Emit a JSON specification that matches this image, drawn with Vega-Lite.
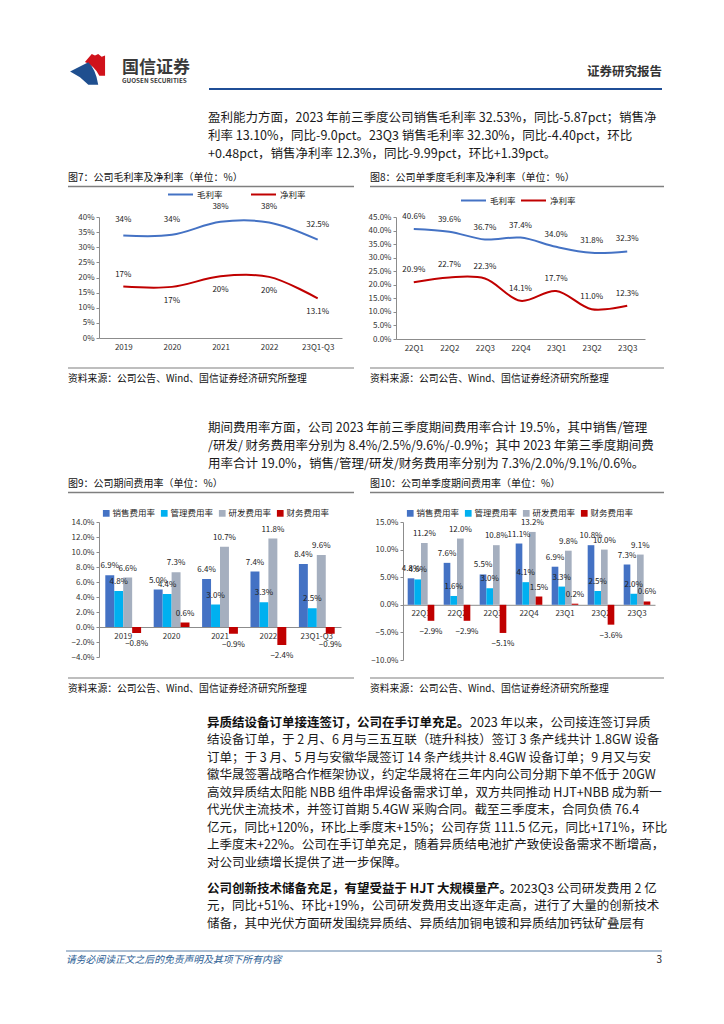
{
"$schema": "https://vega.github.io/schema/vega-lite/v6.json",
"padding": 0,
"background": "white",
"spacing": 0,
"bounds": "flush",
"config": {
  "font": "Noto Sans CJK SC",
  "view": {"stroke": null},
  "axis": {"labelFontSize": 8, "labelColor": "#333", "domainColor": "#8c8c8c", "tickColor": "#8c8c8c", "grid": false, "labelFont": "Noto Sans CJK SC"},
  "legend": {"labelFontSize": 8.5, "labelColor": "#222", "labelFont": "Noto Sans CJK SC"}
},
"vconcat": [
  {"width": 724, "height": 91, "layer": [
    {"data": {"values": [{"part": "红"}]}, "mark": {"type": "point", "shape": "M-0.32,-0.47L0.04,-0.89L0.21,-0.81L0.38,-0.89L0.56,-0.75L0.74,-0.81L0.74,0.25L0.44,0.25Q0.15,-0.3,-0.32,-0.47Z", "filled": true, "color": "#D0121B", "size": 1444, "opacity": 1, "strokeWidth": 0},
     "encoding": {"x": {"datum": 91, "type": "quantitative", "scale": {"domain": [0, 724], "nice": false}, "axis": null}, "y": {"datum": 71, "type": "quantitative", "scale": {"domain": [0, 91], "nice": false, "reverse": true}, "axis": null}}},
    {"data": {"values": [{"part": "蓝"}]}, "mark": {"type": "point", "shape": "M-1.1,0.02L-0.14,-0.46Q0.25,-0.1,0.38,0.72L-0.14,0.72L-0.58,0.33Z", "filled": true, "color": "#1F4F8F", "size": 1444, "opacity": 1, "strokeWidth": 0},
     "encoding": {"x": {"datum": 91, "type": "quantitative", "scale": {"domain": [0, 724], "nice": false}, "axis": null}, "y": {"datum": 71, "type": "quantitative", "scale": {"domain": [0, 91], "nice": false, "reverse": true}, "axis": null}}},
    {"data": {"values": [{"t": "国信证券"}]}, "mark": {"type": "text", "align": "left", "baseline": "middle", "fontSize": 17, "fontWeight": "bold", "color": "#3a3a3a"},
     "encoding": {"x": {"datum": 122, "type": "quantitative", "scale": {"domain": [0, 724], "nice": false}, "axis": null}, "y": {"datum": 67.5, "type": "quantitative", "scale": {"domain": [0, 91], "nice": false, "reverse": true}, "axis": null}, "text": {"field": "t"}}},
    {"data": {"values": [{"t": "GUOSEN SECURITIES"}]}, "mark": {"type": "text", "align": "left", "baseline": "middle", "fontSize": 6.3, "fontWeight": "bold", "color": "#3a3a3a"},
     "encoding": {"x": {"datum": 122, "type": "quantitative", "scale": {"domain": [0, 724], "nice": false}, "axis": null}, "y": {"datum": 80.5, "type": "quantitative", "scale": {"domain": [0, 91], "nice": false, "reverse": true}, "axis": null}, "text": {"field": "t"}}},
    {"data": {"values": [{"t": "证券研究报告"}]}, "mark": {"type": "text", "align": "right", "baseline": "middle", "fontSize": 12.5, "fontWeight": "bold", "color": "#333"},
     "encoding": {"x": {"datum": 662, "type": "quantitative", "scale": {"domain": [0, 724], "nice": false}, "axis": null}, "y": {"datum": 72, "type": "quantitative", "scale": {"domain": [0, 91], "nice": false, "reverse": true}, "axis": null}, "text": {"field": "t"}}},
    {"data": {"values": [{"k": "header"}]}, "mark": {"type": "rule", "color": "#1F4E96", "strokeWidth": 2},
     "encoding": {"x": {"datum": 209, "type": "quantitative", "scale": {"domain": [0, 724], "nice": false}, "axis": null}, "x2": {"datum": 662}, "y": {"datum": 89, "type": "quantitative", "scale": {"domain": [0, 91], "nice": false, "reverse": true}, "axis": null}}}
  ]},
  {"width": 724, "height": 18, "data": {"values": []}, "mark": "text"},
  {"width": 724, "height": 54,
   "data": {"values": [
     {"l": 1, "t": "盈利能力方面，2023 年前三季度公司销售毛利率 32.53%，同比-5.87pct；销售净"},
     {"l": 2, "t": "利率 13.10%，同比-9.0pct。23Q3 销售毛利率 32.30%，同比-4.40pct，环比"},
     {"l": 3, "t": "+0.48pct，销售净利率 12.3%，同比-9.99pct，环比+1.39pct。"}
   ]},
   "mark": {"type": "text", "align": "left", "baseline": "middle", "fontSize": 12.5, "color": "#1a1a1a"},
   "encoding": {
     "x": {"datum": 208, "type": "quantitative", "scale": {"domain": [0, 724], "nice": false}, "axis": null},
     "y": {"field": "l", "type": "ordinal", "axis": null, "scale": {"type": "point", "padding": 0.5}},
     "text": {"field": "t"}
   }},
  {"width": 724, "height": 54, "layer": [
    {"data": {"values": [{"t": "图7：公司毛利率及净利率（单位：%）"}]}, "mark": {"type": "text", "align": "left", "baseline": "middle", "fontSize": 10, "color": "#111"},
     "encoding": {"x": {"datum": 68, "type": "quantitative", "scale": {"domain": [0, 724], "nice": false}, "axis": null}, "y": {"datum": 15, "type": "quantitative", "scale": {"domain": [0, 54], "nice": false, "reverse": true}, "axis": null}, "text": {"field": "t"}}},
    {"data": {"values": [{"t": "图8：公司单季度毛利率及净利率（单位：%）"}]}, "mark": {"type": "text", "align": "left", "baseline": "middle", "fontSize": 10, "color": "#111"},
     "encoding": {"x": {"datum": 370, "type": "quantitative", "scale": {"domain": [0, 724], "nice": false}, "axis": null}, "y": {"datum": 15, "type": "quantitative", "scale": {"domain": [0, 54], "nice": false, "reverse": true}, "axis": null}, "text": {"field": "t"}}},
    {"data": {"values": [{"k": "图7"}]}, "mark": {"type": "rule", "color": "#7f7f7f", "strokeWidth": 1.5},
     "encoding": {"x": {"datum": 68, "type": "quantitative", "scale": {"domain": [0, 724], "nice": false}, "axis": null}, "x2": {"datum": 354}, "y": {"datum": 23.5, "type": "quantitative", "scale": {"domain": [0, 54], "nice": false, "reverse": true}, "axis": null}}},
    {"data": {"values": [{"k": "图8"}]}, "mark": {"type": "rule", "color": "#7f7f7f", "strokeWidth": 1.5},
     "encoding": {"x": {"datum": 370, "type": "quantitative", "scale": {"domain": [0, 724], "nice": false}, "axis": null}, "x2": {"datum": 664}, "y": {"datum": 23.5, "type": "quantitative", "scale": {"domain": [0, 54], "nice": false, "reverse": true}, "axis": null}}}
  ]},
  {"width": 724, "height": 122,
   "resolve": {"scale": {"x": "independent", "y": "independent", "color": "independent"}, "axis": {"x": "independent", "y": "independent"}, "legend": {"color": "independent"}},
   "layer": [
    {"data": {"values": [
       {"p": "2019", "s": "毛利率", "v": 0.339},
       {"p": "2020", "s": "毛利率", "v": 0.341},
       {"p": "2021", "s": "毛利率", "v": 0.384},
       {"p": "2022", "s": "毛利率", "v": 0.382},
       {"p": "23Q1-Q3", "s": "毛利率", "v": 0.325},
       {"p": "2019", "s": "净利率", "v": 0.170},
       {"p": "2020", "s": "净利率", "v": 0.169},
       {"p": "2021", "s": "净利率", "v": 0.204},
       {"p": "2022", "s": "净利率", "v": 0.202},
       {"p": "23Q1-Q3", "s": "净利率", "v": 0.131}
     ]},
     "encoding": {
       "x": {"field": "p", "type": "ordinal", "sort": ["2019", "2020", "2021", "2022", "23Q1-Q3"], "scale": {"type": "point", "padding": 0.5, "range": [99, 342]}, "axis": {"orient": "bottom", "offset": -1, "title": null, "labelAngle": 0, "ticks": false, "labelPadding": 5}},
       "y": {"field": "v", "type": "quantitative", "scale": {"domain": [0, 0.4], "nice": false, "range": [121, 0]}, "axis": {"orient": "left", "offset": -99, "title": null, "values": [0, 0.05, 0.1, 0.15, 0.2, 0.25, 0.3, 0.35, 0.4], "format": ".0%", "tickSize": 3, "labelPadding": 2}}
     },
     "layer": [
       {"mark": {"type": "line", "interpolate": "catmull-rom", "strokeWidth": 2},
        "encoding": {"color": {"field": "s", "type": "nominal", "scale": {"domain": ["毛利率", "净利率"], "range": ["#4472C4", "#C00000"]},
          "legend": {"orient": "none", "legendX": 167, "legendY": -36, "direction": "horizontal", "title": null, "symbolType": "stroke", "symbolSize": 625, "symbolStrokeWidth": 2, "columnPadding": 24, "labelOffset": 3}}}},
       {"transform": [{"filter": "datum.s == '毛利率' && datum.p != '23Q1-Q3'"}], "mark": {"type": "text", "dy": -15, "fontSize": 8, "color": "#222"}, "encoding": {"text": {"field": "v", "type": "quantitative", "format": ".0%"}}},
       {"transform": [{"filter": "datum.s == '毛利率' && datum.p == '23Q1-Q3'"}], "mark": {"type": "text", "dy": -15, "fontSize": 8, "color": "#222"}, "encoding": {"text": {"field": "v", "type": "quantitative", "format": ".1%"}}},
       {"transform": [{"filter": "datum.s == '净利率' && datum.p == '2019'"}], "mark": {"type": "text", "dy": -12, "fontSize": 8, "color": "#222"}, "encoding": {"text": {"field": "v", "type": "quantitative", "format": ".0%"}}},
       {"transform": [{"filter": "datum.s == '净利率' && datum.p != '2019' && datum.p != '23Q1-Q3'"}], "mark": {"type": "text", "dy": 14, "fontSize": 8, "color": "#222"}, "encoding": {"text": {"field": "v", "type": "quantitative", "format": ".0%"}}},
       {"transform": [{"filter": "datum.s == '净利率' && datum.p == '23Q1-Q3'"}], "mark": {"type": "text", "dy": 14, "fontSize": 8, "color": "#222"}, "encoding": {"text": {"field": "v", "type": "quantitative", "format": ".1%"}}}
     ]},
    {"data": {"values": [
       {"p": "22Q1", "s": "毛利率", "v": 0.406},
       {"p": "22Q2", "s": "毛利率", "v": 0.396},
       {"p": "22Q3", "s": "毛利率", "v": 0.367},
       {"p": "22Q4", "s": "毛利率", "v": 0.374},
       {"p": "23Q1", "s": "毛利率", "v": 0.340},
       {"p": "23Q2", "s": "毛利率", "v": 0.318},
       {"p": "23Q3", "s": "毛利率", "v": 0.323},
       {"p": "22Q1", "s": "净利率", "v": 0.209},
       {"p": "22Q2", "s": "净利率", "v": 0.227},
       {"p": "22Q3", "s": "净利率", "v": 0.223},
       {"p": "22Q4", "s": "净利率", "v": 0.141},
       {"p": "23Q1", "s": "净利率", "v": 0.177},
       {"p": "23Q2", "s": "净利率", "v": 0.110},
       {"p": "23Q3", "s": "净利率", "v": 0.123}
     ]},
     "encoding": {
       "x": {"field": "p", "type": "ordinal", "sort": ["22Q1", "22Q2", "22Q3", "22Q4", "23Q1", "23Q2", "23Q3"], "scale": {"type": "point", "padding": 0.5, "range": [396, 645]}, "axis": {"orient": "bottom", "offset": 0, "title": null, "labelAngle": 0, "ticks": false, "labelPadding": 5}},
       "y": {"field": "v", "type": "quantitative", "scale": {"domain": [0, 0.45], "nice": false, "range": [122, 0]}, "axis": {"orient": "left", "offset": -396, "title": null, "values": [0, 0.05, 0.1, 0.15, 0.2, 0.25, 0.3, 0.35, 0.4, 0.45], "format": ".1%", "tickSize": 3, "labelPadding": 2}}
     },
     "layer": [
       {"mark": {"type": "line", "interpolate": "catmull-rom", "strokeWidth": 2},
        "encoding": {"color": {"field": "s", "type": "nominal", "scale": {"domain": ["毛利率", "净利率"], "range": ["#4472C4", "#C00000"]},
          "legend": {"orient": "none", "legendX": 460, "legendY": -30, "direction": "horizontal", "title": null, "symbolType": "stroke", "symbolSize": 625, "symbolStrokeWidth": 2, "columnPadding": 1, "labelOffset": 3}}}},
       {"mark": {"type": "text", "dy": -12, "fontSize": 8, "color": "#222"}, "encoding": {"text": {"field": "v", "type": "quantitative", "format": ".1%"}}}
     ]}
  ]},
  {"width": 724, "height": 80, "layer": [
    {"data": {"values": [{"k": "图7"}]}, "mark": {"type": "rule", "color": "#7f7f7f", "strokeWidth": 1.2},
     "encoding": {"x": {"datum": 68, "type": "quantitative", "scale": {"domain": [0, 724], "nice": false}, "axis": null}, "x2": {"datum": 354}, "y": {"datum": 29, "type": "quantitative", "scale": {"domain": [0, 80], "nice": false, "reverse": true}, "axis": null}}},
    {"data": {"values": [{"k": "图8"}]}, "mark": {"type": "rule", "color": "#7f7f7f", "strokeWidth": 1.2},
     "encoding": {"x": {"datum": 370, "type": "quantitative", "scale": {"domain": [0, 724], "nice": false}, "axis": null}, "x2": {"datum": 664}, "y": {"datum": 29, "type": "quantitative", "scale": {"domain": [0, 80], "nice": false, "reverse": true}, "axis": null}}},
    {"data": {"values": [{"t": "资料来源：公司公告、Wind、国信证券经济研究所整理"}]}, "mark": {"type": "text", "align": "left", "baseline": "middle", "fontSize": 9.8, "color": "#111"},
     "encoding": {"x": {"datum": 68, "type": "quantitative", "scale": {"domain": [0, 724], "nice": false}, "axis": null}, "y": {"datum": 40, "type": "quantitative", "scale": {"domain": [0, 80], "nice": false, "reverse": true}, "axis": null}, "text": {"field": "t"}}},
    {"data": {"values": [{"t": "资料来源：公司公告、Wind、国信证券经济研究所整理"}]}, "mark": {"type": "text", "align": "left", "baseline": "middle", "fontSize": 9.8, "color": "#111"},
     "encoding": {"x": {"datum": 370, "type": "quantitative", "scale": {"domain": [0, 724], "nice": false}, "axis": null}, "y": {"datum": 40, "type": "quantitative", "scale": {"domain": [0, 80], "nice": false, "reverse": true}, "axis": null}, "text": {"field": "t"}}}
  ]},
  {"width": 724, "height": 54,
   "data": {"values": [
     {"l": 1, "t": "期间费用率方面，公司 2023 年前三季度期间费用率合计 19.5%，其中销售/管理"},
     {"l": 2, "t": "/研发/ 财务费用率分别为 8.4%/2.5%/9.6%/-0.9%；其中 2023 年第三季度期间费"},
     {"l": 3, "t": "用率合计 19.0%，销售/管理/研发/财务费用率分别为 7.3%/2.0%/9.1%/0.6%。"}
   ]},
   "mark": {"type": "text", "align": "left", "baseline": "middle", "fontSize": 12.5, "color": "#1a1a1a"},
   "encoding": {
     "x": {"datum": 208, "type": "quantitative", "scale": {"domain": [0, 724], "nice": false}, "axis": null},
     "y": {"field": "l", "type": "ordinal", "axis": null, "scale": {"type": "point", "padding": 0.5}},
     "text": {"field": "t"}
   }},
  {"width": 724, "height": 49, "layer": [
    {"data": {"values": [{"t": "图9：公司期间费用率（单位：%）"}]}, "mark": {"type": "text", "align": "left", "baseline": "middle", "fontSize": 10, "color": "#111"},
     "encoding": {"x": {"datum": 68, "type": "quantitative", "scale": {"domain": [0, 724], "nice": false}, "axis": null}, "y": {"datum": 11, "type": "quantitative", "scale": {"domain": [0, 49], "nice": false, "reverse": true}, "axis": null}, "text": {"field": "t"}}},
    {"data": {"values": [{"t": "图10：公司单季度期间费用率（单位：%）"}]}, "mark": {"type": "text", "align": "left", "baseline": "middle", "fontSize": 10, "color": "#111"},
     "encoding": {"x": {"datum": 370, "type": "quantitative", "scale": {"domain": [0, 724], "nice": false}, "axis": null}, "y": {"datum": 11, "type": "quantitative", "scale": {"domain": [0, 49], "nice": false, "reverse": true}, "axis": null}, "text": {"field": "t"}}},
    {"data": {"values": [{"k": "图9"}]}, "mark": {"type": "rule", "color": "#7f7f7f", "strokeWidth": 1.5},
     "encoding": {"x": {"datum": 68, "type": "quantitative", "scale": {"domain": [0, 724], "nice": false}, "axis": null}, "x2": {"datum": 354}, "y": {"datum": 19.5, "type": "quantitative", "scale": {"domain": [0, 49], "nice": false, "reverse": true}, "axis": null}}},
    {"data": {"values": [{"k": "图10"}]}, "mark": {"type": "rule", "color": "#7f7f7f", "strokeWidth": 1.5},
     "encoding": {"x": {"datum": 370, "type": "quantitative", "scale": {"domain": [0, 724], "nice": false}, "axis": null}, "x2": {"datum": 664}, "y": {"datum": 19.5, "type": "quantitative", "scale": {"domain": [0, 49], "nice": false, "reverse": true}, "axis": null}}}
  ]},
  {"width": 724, "height": 138,
   "resolve": {"scale": {"x": "independent", "y": "independent", "xOffset": "independent", "color": "independent"}, "axis": {"x": "independent", "y": "independent"}, "legend": {"color": "independent"}},
   "layer": [
    {"data": {"values": [
       {"p": "2019", "s": "销售费用率", "v": 0.069}, {"p": "2019", "s": "管理费用率", "v": 0.048}, {"p": "2019", "s": "研发费用率", "v": 0.066}, {"p": "2019", "s": "财务费用率", "v": -0.008},
       {"p": "2020", "s": "销售费用率", "v": 0.050}, {"p": "2020", "s": "管理费用率", "v": 0.044}, {"p": "2020", "s": "研发费用率", "v": 0.073}, {"p": "2020", "s": "财务费用率", "v": 0.006},
       {"p": "2021", "s": "销售费用率", "v": 0.064}, {"p": "2021", "s": "管理费用率", "v": 0.030}, {"p": "2021", "s": "研发费用率", "v": 0.107}, {"p": "2021", "s": "财务费用率", "v": -0.009},
       {"p": "2022", "s": "销售费用率", "v": 0.074}, {"p": "2022", "s": "管理费用率", "v": 0.033}, {"p": "2022", "s": "研发费用率", "v": 0.118}, {"p": "2022", "s": "财务费用率", "v": -0.024},
       {"p": "23Q1-Q3", "s": "销售费用率", "v": 0.084}, {"p": "23Q1-Q3", "s": "管理费用率", "v": 0.025}, {"p": "23Q1-Q3", "s": "研发费用率", "v": 0.096}, {"p": "23Q1-Q3", "s": "财务费用率", "v": -0.009}
     ]},
     "encoding": {
       "x": {"field": "p", "type": "nominal", "sort": ["2019", "2020", "2021", "2022", "23Q1-Q3"], "scale": {"paddingInner": 0.26, "paddingOuter": 0.13, "range": [99, 341]}, "axis": {"orient": "bottom", "offset": -33, "title": null, "labelAngle": 0, "ticks": false, "labelPadding": 5}},
       "xOffset": {"field": "s", "type": "nominal", "sort": ["销售费用率", "管理费用率", "研发费用率", "财务费用率"], "scale": {"paddingInner": 0, "paddingOuter": 0}},
       "y": {"field": "v", "type": "quantitative", "scale": {"domain": [-0.04, 0.14], "nice": false, "range": [135, 0]}, "axis": {"orient": "left", "offset": -99, "title": null, "values": [-0.04, -0.02, 0, 0.02, 0.04, 0.06, 0.08, 0.1, 0.12, 0.14], "format": ".1%", "tickSize": 3, "labelPadding": 2}}
     },
     "layer": [
       {"mark": {"type": "bar"},
        "encoding": {"color": {"field": "s", "type": "nominal", "sort": ["销售费用率", "管理费用率", "研发费用率", "财务费用率"], "scale": {"domain": ["销售费用率", "管理费用率", "研发费用率", "财务费用率"], "range": ["#4472C4", "#00B0F0", "#A5AFBF", "#C00000"]},
          "legend": {"orient": "none", "legendX": 102, "legendY": -13, "direction": "horizontal", "title": null, "symbolType": "square", "symbolSize": 45, "columnPadding": 4, "labelOffset": 2, "symbolStrokeWidth": 0}}}},
       {"transform": [{"filter": "datum.v >= 0"}], "mark": {"type": "text", "dy": -9, "fontSize": 8, "color": "#222"}, "encoding": {"text": {"field": "v", "type": "quantitative", "format": ".1%"}}},
       {"transform": [{"filter": "datum.v < 0"}], "mark": {"type": "text", "dy": 11, "fontSize": 8, "color": "#222"}, "encoding": {"text": {"field": "v", "type": "quantitative", "format": ".1%"}}}
     ]},
    {"data": {"values": [
       {"p": "22Q1", "s": "销售费用率", "v": 0.048}, {"p": "22Q1", "s": "管理费用率", "v": 0.046}, {"p": "22Q1", "s": "研发费用率", "v": 0.112}, {"p": "22Q1", "s": "财务费用率", "v": -0.029},
       {"p": "22Q2", "s": "销售费用率", "v": 0.076}, {"p": "22Q2", "s": "管理费用率", "v": 0.016}, {"p": "22Q2", "s": "研发费用率", "v": 0.120}, {"p": "22Q2", "s": "财务费用率", "v": -0.029},
       {"p": "22Q3", "s": "销售费用率", "v": 0.055}, {"p": "22Q3", "s": "管理费用率", "v": 0.030}, {"p": "22Q3", "s": "研发费用率", "v": 0.108}, {"p": "22Q3", "s": "财务费用率", "v": -0.051},
       {"p": "22Q4", "s": "销售费用率", "v": 0.111}, {"p": "22Q4", "s": "管理费用率", "v": 0.041}, {"p": "22Q4", "s": "研发费用率", "v": 0.132}, {"p": "22Q4", "s": "财务费用率", "v": 0.015},
       {"p": "23Q1", "s": "销售费用率", "v": 0.069}, {"p": "23Q1", "s": "管理费用率", "v": 0.033}, {"p": "23Q1", "s": "研发费用率", "v": 0.098}, {"p": "23Q1", "s": "财务费用率", "v": 0.002},
       {"p": "23Q2", "s": "销售费用率", "v": 0.108}, {"p": "23Q2", "s": "管理费用率", "v": 0.025}, {"p": "23Q2", "s": "研发费用率", "v": 0.100}, {"p": "23Q2", "s": "财务费用率", "v": -0.036},
       {"p": "23Q3", "s": "销售费用率", "v": 0.073}, {"p": "23Q3", "s": "管理费用率", "v": 0.020}, {"p": "23Q3", "s": "研发费用率", "v": 0.091}, {"p": "23Q3", "s": "财务费用率", "v": 0.006}
     ]},
     "encoding": {
       "x": {"field": "p", "type": "nominal", "sort": ["22Q1", "22Q2", "22Q3", "22Q4", "23Q1", "23Q2", "23Q3"], "scale": {"paddingInner": 0.26, "paddingOuter": 0.13, "range": [403, 655]}, "axis": {"orient": "bottom", "offset": -55.2, "title": null, "labelAngle": 0, "ticks": false, "labelPadding": 5}},
       "xOffset": {"field": "s", "type": "nominal", "sort": ["销售费用率", "管理费用率", "研发费用率", "财务费用率"], "scale": {"paddingInner": 0, "paddingOuter": 0}},
       "y": {"field": "v", "type": "quantitative", "scale": {"domain": [-0.1, 0.15], "nice": false, "range": [138, 0]}, "axis": {"orient": "left", "offset": -403, "title": null, "values": [-0.1, -0.05, 0, 0.05, 0.1, 0.15], "format": ".1%", "tickSize": 3, "labelPadding": 2}}
     },
     "layer": [
       {"mark": {"type": "bar"},
        "encoding": {"color": {"field": "s", "type": "nominal", "sort": ["销售费用率", "管理费用率", "研发费用率", "财务费用率"], "scale": {"domain": ["销售费用率", "管理费用率", "研发费用率", "财务费用率"], "range": ["#4472C4", "#00B0F0", "#A5AFBF", "#C00000"]},
          "legend": {"orient": "none", "legendX": 406, "legendY": -13, "direction": "horizontal", "title": null, "symbolType": "square", "symbolSize": 45, "columnPadding": 4, "labelOffset": 2, "symbolStrokeWidth": 0}}}},
       {"transform": [{"filter": "datum.v >= 0"}], "mark": {"type": "text", "dy": -9, "fontSize": 8, "color": "#222"}, "encoding": {"text": {"field": "v", "type": "quantitative", "format": ".1%"}}},
       {"transform": [{"filter": "datum.v < 0"}], "mark": {"type": "text", "dy": 11, "fontSize": 8, "color": "#222"}, "encoding": {"text": {"field": "v", "type": "quantitative", "format": ".1%"}}}
     ]}
  ]},
  {"width": 724, "height": 53.25, "layer": [
    {"data": {"values": [{"k": "图9"}]}, "mark": {"type": "rule", "color": "#7f7f7f", "strokeWidth": 1.2},
     "encoding": {"x": {"datum": 68, "type": "quantitative", "scale": {"domain": [0, 724], "nice": false}, "axis": null}, "x2": {"datum": 354}, "y": {"datum": 18, "type": "quantitative", "scale": {"domain": [0, 53.25], "nice": false, "reverse": true}, "axis": null}}},
    {"data": {"values": [{"k": "图10"}]}, "mark": {"type": "rule", "color": "#7f7f7f", "strokeWidth": 1.2},
     "encoding": {"x": {"datum": 370, "type": "quantitative", "scale": {"domain": [0, 724], "nice": false}, "axis": null}, "x2": {"datum": 664}, "y": {"datum": 18, "type": "quantitative", "scale": {"domain": [0, 53.25], "nice": false, "reverse": true}, "axis": null}}},
    {"data": {"values": [{"t": "资料来源：公司公告、Wind、国信证券经济研究所整理"}]}, "mark": {"type": "text", "align": "left", "baseline": "middle", "fontSize": 9.8, "color": "#111"},
     "encoding": {"x": {"datum": 68, "type": "quantitative", "scale": {"domain": [0, 724], "nice": false}, "axis": null}, "y": {"datum": 29, "type": "quantitative", "scale": {"domain": [0, 53.25], "nice": false, "reverse": true}, "axis": null}, "text": {"field": "t"}}},
    {"data": {"values": [{"t": "资料来源：公司公告、Wind、国信证券经济研究所整理"}]}, "mark": {"type": "text", "align": "left", "baseline": "middle", "fontSize": 9.8, "color": "#111"},
     "encoding": {"x": {"datum": 370, "type": "quantitative", "scale": {"domain": [0, 724], "nice": false}, "axis": null}, "y": {"datum": 29, "type": "quantitative", "scale": {"domain": [0, 53.25], "nice": false, "reverse": true}, "axis": null}, "text": {"field": "t"}}}
  ]},
  {"width": 724, "height": 157.5,
   "data": {"values": [
     {"l": 1, "k": "b", "t": "异质结设备订单接连签订，公司在手订单充足。"},
     {"l": 1, "k": "a", "t": "2023 年以来，公司接连签订异质"},
     {"l": 2, "k": "n", "t": "结设备订单，于 2 月、6 月与三五互联（琏升科技）签订 3 条产线共计 1.8GW 设备"},
     {"l": 3, "k": "n", "t": "订单；于 3 月、5 月与安徽华晟签订 14 条产线共计 8.4GW 设备订单；9 月又与安"},
     {"l": 4, "k": "n", "t": "徽华晟签署战略合作框架协议，约定华晟将在三年内向公司分期下单不低于 20GW"},
     {"l": 5, "k": "n", "t": "高效异质结太阳能 NBB 组件串焊设备需求订单，双方共同推动 HJT+NBB 成为新一"},
     {"l": 6, "k": "n", "t": "代光伏主流技术，并签订首期 5.4GW 采购合同。截至三季度末，合同负债 76.4"},
     {"l": 7, "k": "n", "t": "亿元，同比+120%，环比上季度末+15%；公司存货 111.5 亿元，同比+171%，环比"},
     {"l": 8, "k": "n", "t": "上季度末+22%。公司在手订单充足，随着异质结电池扩产致使设备需求不断增高，"},
     {"l": 9, "k": "n", "t": "对公司业绩增长提供了进一步保障。"}
   ]},
   "encoding": {
     "x": {"datum": 207, "type": "quantitative", "scale": {"domain": [0, 724], "nice": false}, "axis": null},
     "y": {"field": "l", "type": "ordinal", "axis": null, "scale": {"type": "point", "padding": 0.5}},
     "text": {"field": "t"}
   },
   "layer": [
     {"transform": [{"filter": "datum.k == 'n'"}], "mark": {"type": "text", "align": "left", "baseline": "middle", "fontSize": 12.5, "color": "#1a1a1a"}},
     {"transform": [{"filter": "datum.k == 'b'"}], "mark": {"type": "text", "align": "left", "baseline": "middle", "fontSize": 12.5, "fontWeight": "bold", "color": "#111"}},
     {"transform": [{"filter": "datum.k == 'a'"}], "mark": {"type": "text", "align": "left", "baseline": "middle", "fontSize": 12.5, "color": "#1a1a1a", "dx": 263}}
   ]},
  {"width": 724, "height": 7.5, "data": {"values": []}, "mark": "text"},
  {"width": 724, "height": 52.5,
   "data": {"values": [
     {"l": 1, "k": "b", "t": "公司创新技术储备充足，有望受益于 HJT 大规模量产。"},
     {"l": 1, "k": "a", "t": "2023Q3 公司研发费用 2 亿"},
     {"l": 2, "k": "n", "t": "元，同比+51%、环比+19%，公司研发费用支出逐年走高，进行了大量的创新技术"},
     {"l": 3, "k": "n", "t": "储备，其中光伏方面研发围绕异质结、异质结加铜电镀和异质结加钙钛矿叠层有"}
   ]},
   "encoding": {
     "x": {"datum": 207, "type": "quantitative", "scale": {"domain": [0, 724], "nice": false}, "axis": null},
     "y": {"field": "l", "type": "ordinal", "axis": null, "scale": {"type": "point", "padding": 0.5}},
     "text": {"field": "t"}
   },
   "layer": [
     {"transform": [{"filter": "datum.k == 'n'"}], "mark": {"type": "text", "align": "left", "baseline": "middle", "fontSize": 12.5, "color": "#1a1a1a"}},
     {"transform": [{"filter": "datum.k == 'b'"}], "mark": {"type": "text", "align": "left", "baseline": "middle", "fontSize": 12.5, "fontWeight": "bold", "color": "#111"}},
     {"transform": [{"filter": "datum.k == 'a'"}], "mark": {"type": "text", "align": "left", "baseline": "middle", "fontSize": 12.5, "color": "#1a1a1a", "dx": 303}}
   ]},
  {"width": 724, "height": 93.25, "layer": [
    {"data": {"values": [{"k": "footer"}]}, "mark": {"type": "rule", "color": "#5B7FA6", "strokeWidth": 1},
     "encoding": {"x": {"datum": 66, "type": "quantitative", "scale": {"domain": [0, 724], "nice": false}, "axis": null}, "x2": {"datum": 662}, "y": {"datum": 18, "type": "quantitative", "scale": {"domain": [0, 93.25], "nice": false, "reverse": true}, "axis": null}}},
    {"data": {"values": [{"t": "请务必阅读正文之后的免责声明及其项下所有内容"}]}, "mark": {"type": "text", "align": "left", "baseline": "middle", "fontSize": 9.8, "fontStyle": "italic", "color": "#2B5D94"},
     "encoding": {"x": {"datum": 66, "type": "quantitative", "scale": {"domain": [0, 724], "nice": false}, "axis": null}, "y": {"datum": 27, "type": "quantitative", "scale": {"domain": [0, 93.25], "nice": false, "reverse": true}, "axis": null}, "text": {"field": "t"}}},
    {"data": {"values": [{"t": "3"}]}, "mark": {"type": "text", "align": "right", "baseline": "middle", "fontSize": 10, "color": "#222"},
     "encoding": {"x": {"datum": 662, "type": "quantitative", "scale": {"domain": [0, 724], "nice": false}, "axis": null}, "y": {"datum": 27, "type": "quantitative", "scale": {"domain": [0, 93.25], "nice": false, "reverse": true}, "axis": null}, "text": {"field": "t"}}}
  ]}
]
}
